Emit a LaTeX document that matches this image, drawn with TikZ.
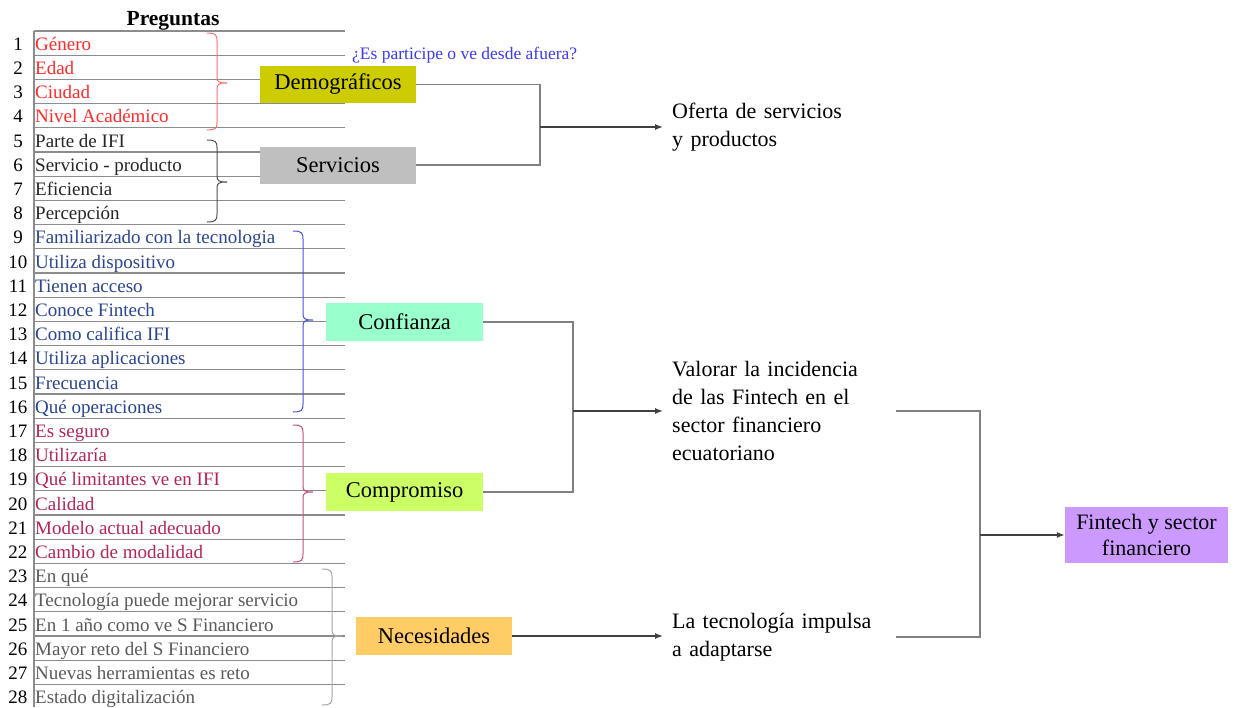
\documentclass[tikz,border=0pt]{standalone}
\usepackage{fontspec}
\setmainfont{Liberation Serif}
\usetikzlibrary{arrows.meta}
\definecolor{qred}{HTML}{FF2A2A}
\definecolor{qdark}{HTML}{262626}
\definecolor{qblue}{HTML}{2B4590}
\definecolor{qcrim}{HTML}{B3245A}
\definecolor{qgray}{HTML}{5A5A5A}
\definecolor{bred}{HTML}{FF7070}
\definecolor{bdark}{HTML}{505050}
\definecolor{bblue}{HTML}{4F4FE0}
\definecolor{bcrim}{HTML}{C8507A}
\definecolor{bgray}{HTML}{A6A6A6}
\definecolor{askblue}{HTML}{3A3AF0}
\definecolor{fdemo}{HTML}{CCCC00}
\definecolor{fserv}{HTML}{BFBFBF}
\definecolor{fconf}{HTML}{99FFCC}
\definecolor{fcomp}{HTML}{CCFF66}
\definecolor{fnec}{HTML}{FFCC66}
\definecolor{ffin}{HTML}{CC99FF}
\definecolor{tline}{HTML}{8C8C8C}
\newcommand{\mycurly}[5]{%
  \draw[#5, line width=1pt] (#1,#2) .. controls ({#1+9},#2) and ({#1+10},{#2+2}) .. ({#1+10},{#2+8})
    -- ({#1+10},{#3-6}) .. controls ({#1+10},{#3-1}) and ({#1+12},#3) .. ({#1+20},#3)
    .. controls ({#1+12},#3) and ({#1+10},{#3+1}) .. ({#1+10},{#3+6})
    -- ({#1+10},{#4-8}) .. controls ({#1+10},{#4-2}) and ({#1+9},#4) .. (#1,#4);}
\begin{document}
\begin{tikzpicture}[x=1pt,y=-1pt,
  qtext/.style={anchor=base west, inner sep=1pt, font=\fontsize{19}{22}\selectfont},
  qnum/.style={anchor=base, inner sep=0pt, font=\fontsize{19}{22}\selectfont},
  tabline/.style={draw=tline, line width=1.2pt},
  catbox/.style={draw=none, minimum width=156pt, minimum height=37pt, inner sep=0pt, font=\fontsize{22.5}{26}\selectfont},
  outtext/.style={align=left, text width=215pt, inner xsep=9pt, inner ysep=0pt, font=\fontsize{22}{27.7}\selectfont},
  bracket/.style={draw=black!50, line width=1.3pt},
  arrowline/.style={draw=black!75, line width=1.3pt, -{Latex[length=8pt,width=6pt]}}
]
\useasboundingbox (0,0) rectangle (1238,707);
\fill[white] (0,0) rectangle (1238,707);

% title
\node[anchor=base, inner sep=0pt, font=\fontsize{21.5}{24}\selectfont\bfseries] (title) at (173,25) {Preguntas};

% table lines
\foreach \k in {0,...,28} {
  \draw[tabline] (34,{31+24.2*\k}) -- (345,{31+24.2*\k});
}
\draw[tabline] (34,31) -- (34,707);

% questions
\foreach \i/\t/\c in {1/Género/qred, 2/Edad/qred, 3/Ciudad/qred, 4/Nivel Académico/qred,
  5/Parte de IFI/qdark, 6/Servicio - producto/qdark, 7/Eficiencia/qdark, 8/Percepción/qdark,
  9/Familiarizado con la tecnologia/qblue, 10/Utiliza dispositivo/qblue, 11/Tienen acceso/qblue,
  12/Conoce Fintech/qblue, 13/Como califica IFI/qblue, 14/Utiliza aplicaciones/qblue,
  15/Frecuencia/qblue, 16/Qué operaciones/qblue,
  17/Es seguro/qcrim, 18/Utilizaría/qcrim, 19/Qué limitantes ve en IFI/qcrim, 20/Calidad/qcrim,
  21/Modelo actual adecuado/qcrim, 22/Cambio de modalidad/qcrim,
  23/En qué/qgray, 24/Tecnología puede mejorar servicio/qgray, 25/En 1 año como ve S Financiero/qgray,
  26/Mayor reto del S Financiero/qgray, 27/Nuevas herramientas es reto/qgray, 28/Estado digitalización/qgray} {
  \node[qnum] (n\i) at (18,{31+24.2*\i-5}) {\i};
  \node[qtext, text=\c] (q\i) at (34,{31+24.2*\i-5}) {\t};
}

% braces
\mycurly{207}{33}{83}{130}{bred}
\mycurly{207}{140}{182}{222}{bdark}
\mycurly{293}{231}{320}{412}{bblue}
\mycurly{293}{425}{492}{562}{bcrim}
\mycurly{322}{569}{636}{705}{bgray}

% question note
\node[anchor=base west, inner sep=0pt, text=askblue, font=\fontsize{17.5}{20}\selectfont] (ask) at (352,59) {¿Es participe o ve desde afuera?};

% category boxes
\node[catbox, fill=fdemo] (demo) at (338,84.5) {Demográficos};
\node[catbox, fill=fserv] (serv) at (338,165) {Servicios};
\node[catbox, fill=fconf, minimum width=157pt, minimum height=38pt] (conf) at (404.5,322) {Confianza};
\node[catbox, fill=fcomp, minimum width=157pt, minimum height=38pt] (comp) at (404.5,492) {Compromiso};
\node[catbox, fill=fnec, minimum height=38pt] (nec) at (434,636) {Necesidades};

% outcome texts
\node[outtext, anchor=west] (oferta) at (663,127) {Oferta de servicios\\y productos};
\node[outtext, anchor=west] (valorar) at (663,411) {Valorar la incidencia\\de las Fintech en el\\sector financiero\\ecuatoriano};
\node[outtext, anchor=west] (tec) at (663,637) {La tecnología impulsa\\a adaptarse};

% final box
\node[draw=none, fill=ffin, minimum width=163pt, minimum height=56pt, inner sep=0pt, align=center,
  font=\fontsize{22}{26}\selectfont] (fin) at (1146.5,535) {Fintech y sector\\financiero};

% junctions
\coordinate (j1) at (540,127);
\coordinate (j2) at (573,411);
\coordinate (j3) at (980,535);

% connectors
\draw[bracket] (demo.east) -| (j1);
\draw[bracket] (serv.east) -| (j1);
\draw[arrowline] (j1) -- (oferta.west);
\draw[bracket] (conf.east) -| (j2);
\draw[bracket] (comp.east) -| (j2);
\draw[arrowline] (j2) -- (valorar.west);
\draw[arrowline] (nec.east) -- (nec.east -| tec.west);
\draw[bracket] (valorar.east) -| (j3);
\draw[bracket] (tec.east) -| (j3);
\draw[arrowline] (j3) -- (fin.west);
\end{tikzpicture}
\end{document}
